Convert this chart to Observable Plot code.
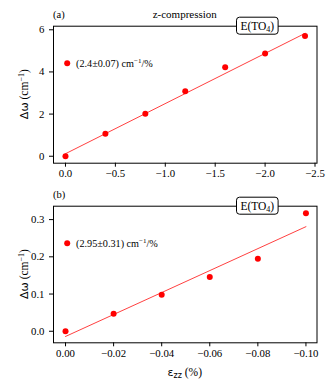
<!DOCTYPE html>
<html><head><meta charset="utf-8">
<script src="https://cdn.jsdelivr.net/npm/d3@7"></script>
<script src="https://cdn.jsdelivr.net/npm/@observablehq/plot@0.6"></script>
<style>
body{margin:0;background:#fff;}
#c svg{display:block;}
#c svg text{font-family:'Liberation Serif','Times New Roman',serif;}
#c svg text tspan.sans{font-family:'DejaVu Sans',sans-serif;}
</style></head><body><div id="c"></div>
<script>
// Panel (a): z-compression
const strainA = [0, -0.4, -0.8, -1.2, -1.6, -2.0, -2.4];
const shiftA = [0, 1.07, 2.02, 3.08, 4.22, 4.88, 5.71];
const fitAx = [0, -2.4];
const fitAy = [0.12, 5.83];
const ticksAx = [0, -0.5, -1.0, -1.5, -2.0, -2.5];
const ticksAy = [0, 2, 4, 6];
// Panel (b)
const strainB = [0, -0.02, -0.04, -0.06, -0.08, -0.10];
const shiftB = [0, 0.047, 0.098, 0.146, 0.195, 0.317];
const fitBx = [0, -0.10];
const fitBy = [-0.014, 0.281];
const ticksBx = [0, -0.02, -0.04, -0.06, -0.08, -0.10];
const ticksBy = [0, 0.1, 0.2, 0.3];
// Texts
const tagA = "(a)", tagB = "(b)";
const titleA = "z-compression";
const slopeA = ["(2.4±0.07) cm", "−1", "/%"];
const slopeB = ["(2.95±0.31) cm", "−1", "/%"];
const modeLabel = ["E(TO", "4", ")"];
const yLabel = ["Δω", " (cm", "−1", ")"];
const xLabel = ["ε", "zz", " (%)"];

const SERIF = "'Liberation Serif', 'Times New Roman', serif";

function panel({xs, ys, fx, fy, xdom, ydom, xt, yt, xfmt, yfmt, height, mt, mb, tag, title, slope, xlab}) {
  const ml = 53, mr = 19.5;
  const pts = xs.map((x, i) => ({x, y: ys[i]}));
  const fit = fx.map((x, i) => ({x, y: fy[i]}));
  const svg = Plot.plot({
    width: 336, height, marginLeft: ml, marginRight: mr, marginTop: mt, marginBottom: mb,
    style: {fontFamily: SERIF, fontSize: "10.8px", color: "#000", background: "#fff"},
    x: {domain: xdom, ticks: xt, tickFormat: xfmt, tickSize: 4, tickPadding: 2.5, label: null},
    y: {domain: ydom, ticks: yt, tickFormat: yfmt, tickSize: 4, tickPadding: 5, label: null},
    marks: [
      Plot.line(fit, {x: "x", y: "y", stroke: "#ff2a2a", strokeWidth: 0.9}),
      Plot.dot(pts, {x: "x", y: "y", r: 3, fill: "#ff0000", stroke: "none"}),
      Plot.frame({stroke: "#000", strokeWidth: 1})
    ]
  });
  const s = d3.select(svg);
  s.attr("font-family", SERIF).attr("font-size", 10.8);
  const W = 336, fl = ml, fr = W - mr, ft = mt, fb = height - mb;
  const g = s.append("g").attr("fill", "#000").attr("text-anchor", "start");
  // tag
  g.append("text").attr("x", fl).attr("y", ft - 7.5).attr("font-size", 10.5).attr("text-anchor", "start").text(tag);
  if (title) g.append("text").attr("x", (fl + fr) / 2).attr("y", ft - 8).attr("text-anchor", "middle").attr("font-size", 11).text(title);
  // mode box
  const bw = 41.6, bh = 17, bcx = fr - 59.2;
  g.append("rect").attr("x", bcx - bw / 2).attr("y", ft - bh / 2).attr("width", bw).attr("height", bh)
    .attr("rx", 3).attr("fill", "#fff").attr("stroke", "#000").attr("stroke-width", 1);
  const mt_ = g.append("text").attr("x", bcx).attr("y", ft + 4).attr("text-anchor", "middle").attr("font-size", 11.5);
  mt_.append("tspan").text(modeLabel[0]);
  mt_.append("tspan").attr("font-size", 8).attr("dy", 2.5).text(modeLabel[1]);
  mt_.append("tspan").attr("dy", -2.5).text(modeLabel[2]);
  // legend
  const ly = ft + 37.6;
  g.append("circle").attr("cx", fl + 14.2).attr("cy", ly).attr("r", 3).attr("fill", "#ff0000");
  const lt = g.append("text").attr("x", fl + 23).attr("y", ly + 3.6).attr("text-anchor", "start").attr("font-size", 10.2);
  lt.append("tspan").text(slope[0]);
  lt.append("tspan").attr("font-size", 7).attr("dy", -4).text(slope[1]);
  lt.append("tspan").attr("dy", 4).text(slope[2]);
  // y label
  const yt_ = g.append("text").attr("transform", `translate(${fl - 25},${(ft + fb) / 2}) rotate(-90)`)
    .attr("text-anchor", "middle").attr("font-size", 11.5);
  yt_.append("tspan").attr("class", "sans").attr("font-size", 11).text(yLabel[0]);
  yt_.append("tspan").text(yLabel[1]);
  yt_.append("tspan").attr("font-size", 8).attr("dy", -4.5).text(yLabel[2]);
  yt_.append("tspan").attr("dy", 4.5).text(yLabel[3]);
  if (xlab) {
    const xt_ = g.append("text").attr("x", (fl + fr) / 2).attr("y", fb + 33.5).attr("text-anchor", "middle").attr("font-size", 11.5);
    xt_.append("tspan").attr("class", "sans").attr("font-size", 11).text(xLabel[0]);
    xt_.append("tspan").attr("class", "sans").attr("font-size", 8).attr("dy", 2.5).text(xLabel[1]);
    xt_.append("tspan").attr("dy", -2.5).text(xLabel[2]);
  }
  return svg;
}

const c = document.getElementById("c");
c.appendChild(panel({
  xs: strainA, ys: shiftA, fx: fitAx, fy: fitAy,
  xdom: [0.12, -2.52], ydom: [-0.33, 6.17], xt: ticksAx, yt: ticksAy,
  xfmt: d3.format(".1f"), yfmt: d3.format("d"),
  height: 190, mt: 25.7, mb: 27.3, tag: tagA, title: titleA, slope: slopeA, xlab: false
}));
c.appendChild(panel({
  xs: strainB, ys: shiftB, fx: fitBx, fy: fitBy,
  xdom: [0.005, -0.1046], ydom: [-0.031, 0.336], xt: ticksBx, yt: ticksBy,
  xfmt: d3.format(".2f"), yfmt: d3.format(".1f"),
  height: 199, mt: 15.7, mb: 46.7, tag: tagB, title: null, slope: slopeB, xlab: true
}));
</script></body></html>
